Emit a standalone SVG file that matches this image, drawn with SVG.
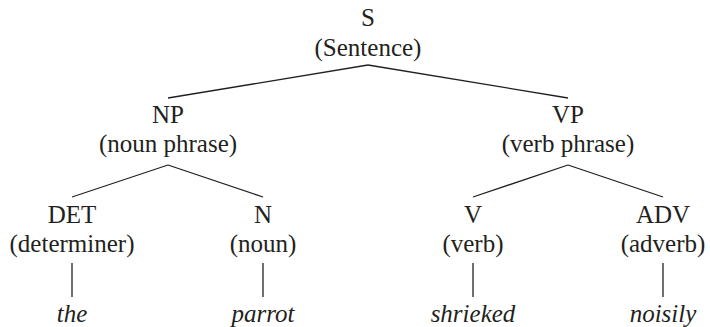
<svg xmlns="http://www.w3.org/2000/svg" width="710" height="327" viewBox="0 0 710 327">
<style>
text{font-size:25px;fill:#231f20;text-anchor:middle}
.w{font-style:italic}
.c line{stroke:#231f20;stroke-width:1.3;fill:none}
</style>
<rect width="710" height="327" fill="#fff"/>
<g class="c" id="connectors">
<line x1="368" y1="65" x2="168" y2="98"/>
<line x1="368" y1="65" x2="568" y2="98"/>
<line x1="168" y1="165" x2="72" y2="197"/>
<line x1="168" y1="165" x2="263" y2="197"/>
<line x1="568" y1="165" x2="473" y2="197"/>
<line x1="568" y1="165" x2="663" y2="197"/>
<line x1="72" y1="263" x2="72" y2="297"/>
<line x1="263" y1="263" x2="263" y2="297"/>
<line x1="473" y1="263" x2="473" y2="297"/>
<line x1="663" y1="263" x2="663" y2="297"/>
</g>
<g font-family="Liberation Serif, DejaVu Serif, serif">
<g id="S"><text x="368" y="26">S</text><text x="368" y="56">(Sentence)</text></g>
<g id="NP"><text x="168" y="123">NP</text><text x="168" y="152">(noun phrase)</text></g>
<g id="VP"><text x="568" y="123">VP</text><text x="568" y="152">(verb phrase)</text></g>
<g id="DET"><text x="72" y="223">DET</text><text x="72" y="252">(determiner)</text></g>
<g id="N"><text x="263" y="223">N</text><text x="263" y="252">(noun)</text></g>
<g id="V"><text x="473" y="223">V</text><text x="473" y="252">(verb)</text></g>
<g id="ADV"><text x="663" y="223">ADV</text><text x="663" y="252">(adverb)</text></g>
<g id="the"><text class="w" x="72" y="322">the</text></g>
<g id="parrot"><text class="w" x="263" y="322">parrot</text></g>
<g id="shrieked"><text class="w" x="473" y="322">shrieked</text></g>
<g id="noisily"><text class="w" x="663" y="322">noisily</text></g>
</g>
</svg>
